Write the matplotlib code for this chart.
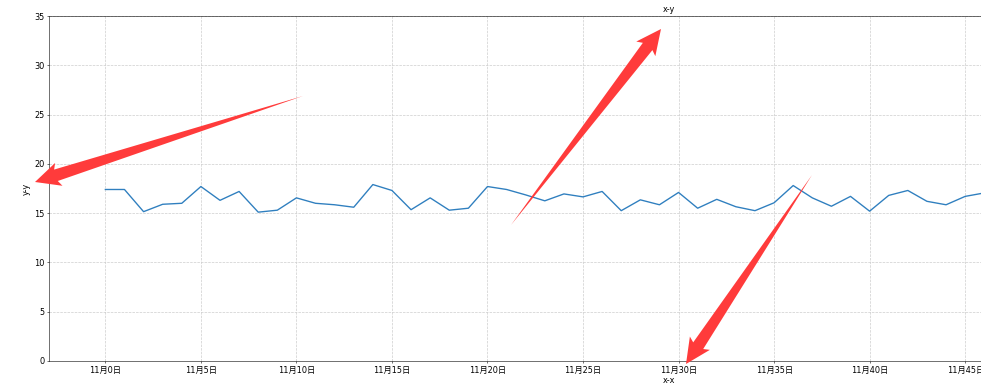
import numpy as np
import matplotlib
matplotlib.use('Agg')
import matplotlib.pyplot as plt
from matplotlib.patches import Polygon

plt.rcParams['font.family'] = ['DejaVu Sans', 'Noto Sans CJK SC']

# daily values (x = day index)
days = list(range(47))
values = [17.4, 17.4, 15.15, 15.9, 16.0, 17.7, 16.3, 17.2, 15.1, 15.3,
          16.55, 16.0, 15.85, 15.6, 17.9, 17.3, 15.35, 16.55, 15.3, 15.5,
          17.7, 17.4, 16.85, 16.25, 16.95, 16.65, 17.2, 15.25, 16.35, 15.85,
          17.1, 15.5, 16.4, 15.65, 15.25, 16.05, 17.8, 16.55, 15.7, 16.7,
          15.2, 16.8, 17.3, 16.2, 15.85, 16.7, 17.05]
tick_pos = list(range(0, 50, 5))
tick_labels = ['11月%d日' % d for d in tick_pos]

W, H, DPI = 981, 391, 49
fig = plt.figure(figsize=(W / DPI, H / DPI), dpi=DPI)

# axes in pixels: left 49, top 16, bottom 361, right runs past the image edge
x0, x1, ytop, ybot = 49, 1289, 16, 361
ax = fig.add_axes([x0 / W, 1 - ybot / H, (x1 - x0) / W, (ybot - ytop) / H])

ax.plot(days, values, color='#2f7fbf', linewidth=2)
ax.set_xlim(-2.95, 61.95)
ax.set_ylim(0, 35)
ax.set_xticks(tick_pos)
ax.set_xticklabels(tick_labels)
ax.set_yticks(range(0, 36, 5))
ax.tick_params(labelsize=12)
ax.grid(True, linestyle='--', color='#cccccc', linewidth=1)
ax.set_title('x-y', fontsize=12, pad=6)
ax.set_xlabel('x-x', fontsize=12, labelpad=2)
ax.set_ylabel('y-y', fontsize=12, labelpad=4)


# red arrows pasted over the screenshot, drawn in pixel coordinates
def arrow(tail, tip, ws=6, wh=12, hl=22):
    tail = np.array(tail, float)
    tip = np.array(tip, float)
    d = (tip - tail) / np.linalg.norm(tip - tail)
    n = np.array([-d[1], d[0]])
    base = tip - d * hl
    pts = [tail, base + n * ws, base - d * 3 + n * wh, tip,
           base - d * 3 - n * wh, base - n * ws]
    pts = [(p[0] / W, 1 - p[1] / H) for p in pts]
    fig.add_artist(Polygon(pts, closed=True, transform=fig.transFigure,
                           facecolor='#ff3b3b', edgecolor='none', zorder=10))


arrow((303, 96), (35, 182))
arrow((511, 225), (661, 29))
arrow((812, 175), (686, 364))

fig.savefig('out.png', dpi=DPI)
